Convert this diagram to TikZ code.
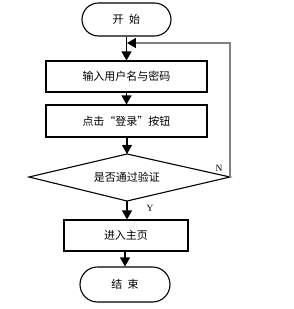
\documentclass[tikz,border=0pt]{standalone}
\usepackage{fontspec}
\setmainfont{Liberation Serif}
\newfontfamily\cjk{Noto Sans CJK SC}
\usetikzlibrary{arrows.meta,shapes.misc}
\begin{document}
\begin{tikzpicture}[x=1pt,y=-1pt,
  term/.style={draw,line width=1.1pt,rounded rectangle,minimum width=89pt,minimum height=33pt,inner sep=0pt,font=\cjk\fontsize{11}{12}\selectfont},
  proc/.style={draw,line width=1.1pt,rectangle,inner sep=0pt,font=\cjk\fontsize{11}{12}\selectfont},
  arr/.style={line width=1.2pt,-{Triangle[length=9pt,width=10pt]}},
  lab/.style={font=\fontsize{9.5}{10}\selectfont,inner sep=0pt}]
\useasboundingbox (0,0) rectangle (294,309);
\node[term] (start) at (126.5,19.5) {开\hspace{0.5em}始};
\node[proc,minimum width=161pt,minimum height=31pt] (in) at (126.5,76.5) {输入用户名与密码};
\node[proc,minimum width=161pt,minimum height=32pt] (click) at (126.5,121) {点击“登录”按钮};
\coordinate (dt) at (127,154);
\coordinate (dl) at (29,177);
\coordinate (dr) at (230,177);
\coordinate (db) at (127,201);
\draw[line width=1.1pt] (dt) -- (dr) -- (db) -- (dl) -- cycle;
\node[font=\cjk\fontsize{11}{12}\selectfont,inner sep=0pt] (chk) at (127,177.5) {是否通过验证};
\node[proc,minimum width=124pt,minimum height=31pt] (home) at (126,235.5) {进入主页};
\node[term,minimum width=90pt,minimum height=35pt] (end) at (125,284.5) {结\hspace{0.5em}束};
\coordinate (fb) at (127,43);
\coordinate (fr) at (230,43);
\draw[arr] (start.south -| in.north) -- (in.north);
\draw[arr] (in.south) -- (click.north);
\draw[arr] (click.south -| dt) -- (dt);
\draw[arr] (db) -- (db |- home.north);
\draw[arr] (home.south -| end.north) -- (end.north);
\draw[draw=black!50,line width=1.6pt,-{Triangle[length=9pt,width=10pt,color=black]}] (dr) -- (fr) -- (fb);
\node[lab] (n) at (219,168) {N};
\node[lab] (y) at (150,208) {Y};
\end{tikzpicture}
\end{document}
